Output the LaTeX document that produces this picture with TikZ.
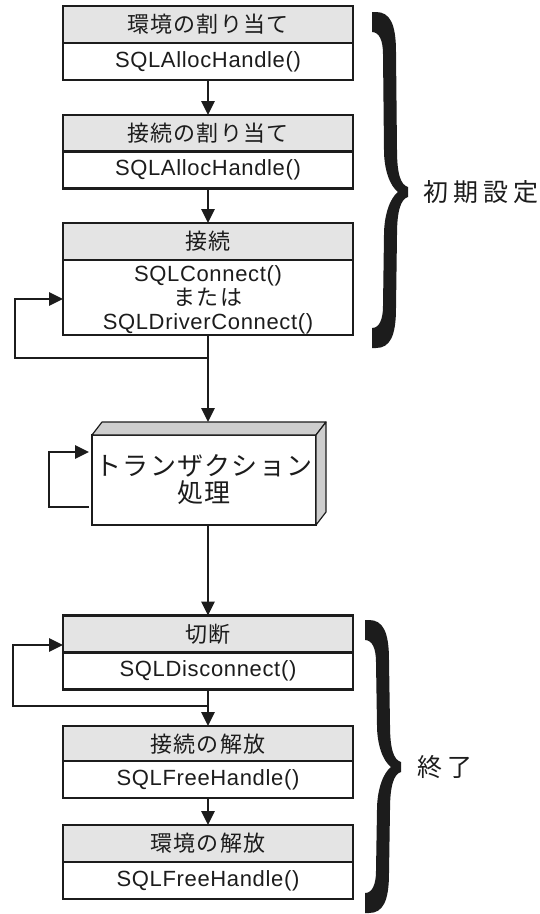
\documentclass[tikz,border=0pt]{standalone}
\usepackage{fontspec}
\setmainfont{Liberation Sans}
\newfontfamily\jphead[LetterSpace=5]{Noto Sans CJK JP}
\newfontfamily\jpmid[LetterSpace=5]{Noto Sans CJK JP}
\newfontfamily\jpbig[LetterSpace=20]{Noto Sans CJK JP}
\newfontfamily\lat[LetterSpace=3]{Liberation Sans}
\usetikzlibrary{arrows.meta}
\definecolor{hdgray}{RGB}{228,228,228}
\definecolor{sidegray}{RGB}{206,206,206}
\definecolor{ink}{RGB}{28,28,28}
\newcommand\bigbrace[4]{%
\fill[ink] (#1,#2) -- (#1+4,#2) .. controls (#1+18,#2) and (#1+24,#2+12) .. (#1+24,#2+40)
 -- (#1+25,#3-42) .. controls (#1+25,#3-17) and (#1+29,#3-7) .. (#1+36,#3-5)
 -- (#1+36,#3+5) .. controls (#1+29,#3+7) and (#1+25,#3+18) .. (#1+25,#3+43)
 -- (#1+24,#4-40) .. controls (#1+24,#4-12) and (#1+18,#4) .. (#1+4,#4)
 -- (#1,#4) -- (#1,#4-20) .. controls (#1+7,#4-20) and (#1+11,#4-28) .. (#1+11,#4-42)
 -- (#1+12,#3+43) .. controls (#1+12,#3+23) and (#1+18,#3+6) .. (#1+26,#3)
 .. controls (#1+18,#3-6) and (#1+12,#3-22) .. (#1+12,#3-42)
 -- (#1+11,#2+42) .. controls (#1+11,#2+28) and (#1+7,#2+20) .. (#1,#2+20) -- cycle;}
\begin{document}
\begin{tikzpicture}[x=1pt,y=-1pt,
  hd/.style={draw=ink, line width=2.6pt, fill=hdgray, minimum width=290pt, minimum height=37pt,
    inner sep=0pt, outer sep=0pt, text=ink, font=\jphead\fontsize{22}{24}\selectfont},
  bd/.style={draw=ink, line width=2.6pt, fill=white, minimum width=290pt, minimum height=37pt,
    inner sep=0pt, outer sep=0pt, text=ink, align=center, font=\lat\fontsize{22}{24}\selectfont},
  arr/.style={draw=ink, line width=2.8pt, line join=miter, -{Triangle[length=14pt,width=13pt]}},
  ln/.style={draw=ink, line width=2.8pt},
  side/.style={draw=ink, line width=1.2pt, fill=sidegray, line join=round},
  lab/.style={text=ink, inner sep=0pt, font=\jpbig\fontsize{25}{28}\selectfont}]
\useasboundingbox (0,0) rectangle (539,914);

% initial setup boxes
\node[hd] (h1) at (208,24.5) {環境の割り当て};
\node[bd] (b1) at (208,61.5) {SQLAllocHandle()};
\node[hd] (h2) at (208,133.5) {接続の割り当て};
\node[bd] (b2) at (208,170) {SQLAllocHandle()};
\node[hd] (h3) at (208,241.5) {接続};
\node[bd, minimum height=75pt] (b3) at (208,297.5) {\rule{0pt}{21pt}SQLConnect()\\{\jphead\fontsize{22}{24}\selectfont または}\\SQLDriverConnect()};

% transaction box (3D)
\node[draw=ink, line width=1.2pt, fill=white, minimum width=224pt, minimum height=90pt,
  inner sep=0pt, outer sep=0pt, align=center, text=ink,
  font=\jpmid\fontsize{26}{27}\selectfont] (tx) at (204,480) {トランザクション\\処理};
\draw[side] (tx.north west) -- ([shift={(10,-13)}]tx.north west) -- ([shift={(10,-13)}]tx.north east) -- (tx.north east) -- cycle;
\draw[side] (tx.north east) -- ([shift={(10,-13)}]tx.north east) -- ([shift={(10,-13)}]tx.south east) -- (tx.south east) -- cycle;

% termination boxes
\node[hd] (h4) at (208,634) {切断};
\node[bd] (b4) at (208,671) {SQLDisconnect()};
\node[hd] (h5) at (208,744.5) {接続の解放};
\node[bd] (b5) at (208,779.5) {SQLFreeHandle()};
\node[hd] (h6) at (208,843.5) {環境の解放};
\node[bd] (b6) at (208,880.5) {SQLFreeHandle()};

% connectors
\draw[arr] (b1.south) -- (h2.north);
\draw[arr] (b2.south) -- (h3.north);
\coordinate (j1) at (208,358);
\coordinate (l1a) at (15,358);
\coordinate (l1b) at (15,299);
\coordinate (txtop) at (208,422);
\draw[ln] (b3.south) -- (j1);
\draw[arr] (j1) -- (txtop);
\draw[arr] (j1) -- (l1a) -- (l1b) -- (l1b -| b3.west);

\coordinate (t1) at (89,507);
\coordinate (t2) at (49,507);
\coordinate (t3) at (49,452);
\coordinate (t4) at (89,452);
\draw[arr] (t1) -- (t2) -- (t3) -- (t4);

\draw[arr] (tx.south -| j1) -- (h4.north);
\coordinate (j2) at (208,706);
\coordinate (l2a) at (13,706);
\coordinate (l2b) at (13,645);
\draw[ln] (b4.south) -- (j2);
\draw[arr] (j2) -- (h5.north);
\draw[arr] (j2) -- (l2a) -- (l2b) -- (l2b -| h4.west);
\draw[arr] (b5.south) -- (h6.north);

% braces and labels
\bigbrace{372}{12}{192}{348}
\node[lab] (init) at (481,192) {初期設定};
\bigbrace{365}{620}{767}{913}
\node[lab] (term) at (445,767) {終了};
\end{tikzpicture}
\end{document}
